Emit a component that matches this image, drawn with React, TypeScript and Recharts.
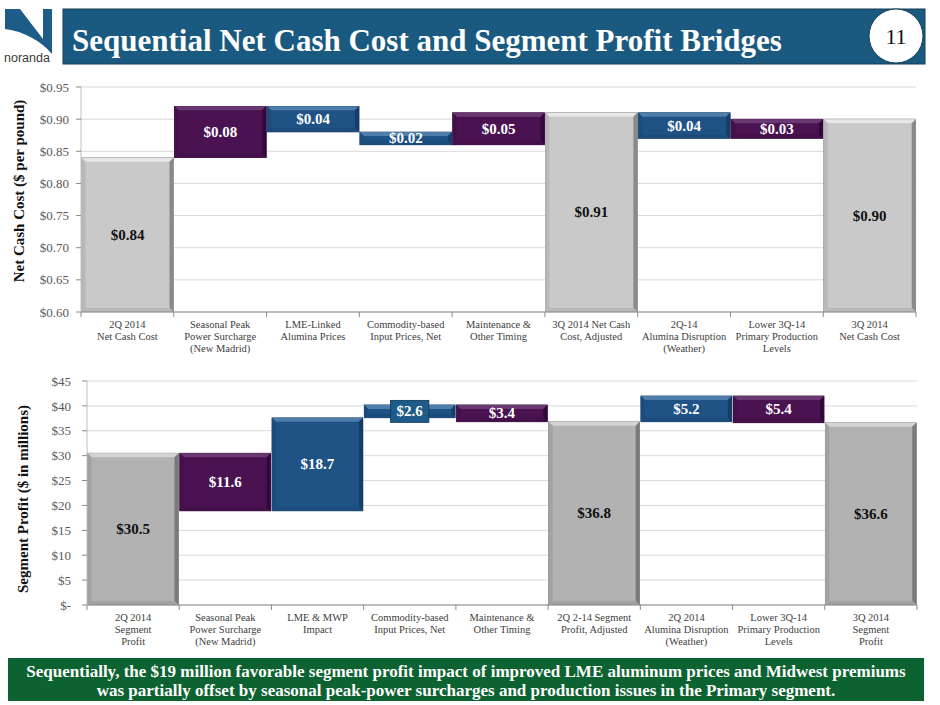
import React from 'react';
import { BarChart, Bar, XAxis, YAxis, CartesianGrid } from 'recharts';

// ---------- data ----------
const costCategories = [
  '2Q 2014\nNet Cash Cost',
  'Seasonal Peak\nPower Surcharge\n(New Madrid)',
  'LME-Linked\nAlumina Prices',
  'Commodity-based\nInput Prices, Net',
  'Maintenance &\nOther Timing',
  '3Q 2014 Net Cash\nCost, Adjusted',
  '2Q-14\nAlumina Disruption\n(Weather)',
  'Lower 3Q-14\nPrimary Production\nLevels',
  '3Q 2014\nNet Cash Cost',
];
const costChanges = [0.84, 0.08, -0.04, -0.02, 0.05, 0.91, -0.04, 0.03, 0.9];
const costIsTotal = [true, false, false, false, false, true, false, false, true];
const costTicks = [0.6, 0.65, 0.7, 0.75, 0.8, 0.85, 0.9, 0.95];

const profitCategories = [
  '2Q 2014\nSegment\nProfit',
  'Seasonal Peak\nPower Surcharge\n(New Madrid)',
  'LME & MWP\nImpact',
  'Commodity-based\nInput Prices, Net',
  'Maintenance &\nOther Timing',
  '2Q 2-14 Segment\nProfit, Adjusted',
  '2Q 2014\nAlumina Disruption\n(Weather)',
  'Lower 3Q-14\nPrimary Production\nLevels',
  '3Q 2014\nSegment\nProfit',
];
const profitChanges = [30.5, -11.6, 18.7, 2.6, -3.4, 36.8, 5.2, -5.4, 36.6];
const profitIsTotal = [true, false, false, false, false, true, false, false, true];
const profitTicks = [0, 5, 10, 15, 20, 25, 30, 35, 40, 45];

const titleText = 'Sequential Net Cash Cost and Segment Profit Bridges';
const pageNumber = '11';
const footerLines = [
  'Sequentially, the $19 million favorable segment profit impact of improved LME aluminum prices and Midwest premiums',
  'was partially offset by seasonal peak-power surcharges and production issues in the Primary segment.',
];
const costAxisTitle = 'Net Cash Cost ($ per pound)';
const profitAxisTitle = 'Segment Profit ($ in millions)';

// ---------- helpers ----------
const SERIF = '"Liberation Serif", "Times New Roman", serif';

type Row = { name: string; range: [number, number]; change: number; total: boolean };

function buildRows(categories: string[], changes: number[], isTotal: boolean[], floor: number): Row[] {
  let running = 0;
  return categories.map((name, i) => {
    const v = changes[i];
    let low: number;
    let high: number;
    if (isTotal[i]) {
      running = v;
      low = floor;
      high = v;
    } else {
      const next = running + v;
      low = Math.min(running, next);
      high = Math.max(running, next);
      running = next;
    }
    return { name, range: [+low.toFixed(4), +high.toFixed(4)], change: v, total: isTotal[i] };
  });
}

type Tone = { base: string; light: string; side: string; dark: string; edge: string; text: string; box: string };
const PURPLE: Tone = { base: '#4a1251', light: '#6a3871', side: '#43104a', dark: '#32083a', edge: '#2a0530', text: '#ffffff', box: '#4a1251' };
const BLUE: Tone = { base: '#1f5285', light: '#4d7dab', side: '#1c4c7c', dark: '#153e66', edge: '#0f3458', text: '#ffffff', box: '#1d5c88' };
const GRAY_TOP: Tone = { base: '#c9c9c9', light: '#e6e6e6', side: '#b8b8b8', dark: '#8a8a8a', edge: '#7a7a7a', text: '#111111', box: '#c9c9c9' };
const GRAY_BOTTOM: Tone = { base: '#b2b2b2', light: '#d4d4d4', side: '#a2a2a2', dark: '#7a7a7a', edge: '#6a6a6a', text: '#111111', box: '#b2b2b2' };

function makeShape(up: Tone, down: Tone, total: Tone, decimals: number, boxSmall: boolean) {
  return (props: any) => {
    let { x, y, width: w, height: h } = props;
    const p: Row = props.payload;
    if (w == null || h == null || !p) return <g />;
    if (h < 0) {
      y += h;
      h = -h;
    }
    const tone = p.total ? total : p.change >= 0 ? up : down;
    const b = Math.max(1, Math.min(4, h / 3, w / 3));
    const label = `$${Math.abs(p.change).toFixed(decimals)}`;
    const cx = x + w / 2;
    const cy = y + h / 2;
    const showBox = boxSmall && h < 16;
    const boxW = label.length * 8.6 + 4;
    return (
      <g>
        <rect x={x} y={y} width={w} height={h} fill={tone.base} stroke={tone.edge} strokeWidth={0.6} />
        <polygon points={`${x},${y} ${x + w},${y} ${x + w - b},${y + b} ${x + b},${y + b}`} fill={tone.light} />
        <polygon points={`${x},${y} ${x + b},${y + b} ${x + b},${y + h - b} ${x},${y + h}`} fill={tone.side} />
        <polygon points={`${x + w},${y} ${x + w - b},${y + b} ${x + w - b},${y + h - b} ${x + w},${y + h}`} fill={tone.dark} />
        <polygon points={`${x},${y + h} ${x + w},${y + h} ${x + w - b},${y + h - b} ${x + b},${y + h - b}`} fill={tone.side} />
        {showBox && (
          <rect x={cx - boxW / 2} y={cy - 11} width={boxW} height={22} fill={tone.box} stroke={tone.edge} strokeWidth={0.8} />
        )}
        <text
          x={cx}
          y={cy}
          textAnchor="middle"
          dominantBaseline="central"
          fontFamily={SERIF}
          fontWeight="bold"
          fontSize={15}
          fill={tone.text}
        >
          {label}
        </text>
      </g>
    );
  };
}

function makeCategoryTick(count: number, plotWidth: number) {
  return (props: any) => {
    const { x, y, payload, index } = props;
    const half = payload && typeof payload.offset === 'number' && payload.offset > 0 ? payload.offset : plotWidth / count / 2;
    const lines = String(payload.value).split('\n');
    return (
      <g>
        <line x1={x - half} y1={y} x2={x - half} y2={y + 5} stroke="#8a8a8a" />
        {index === count - 1 && <line x1={x + half} y1={y} x2={x + half} y2={y + 5} stroke="#8a8a8a" />}
        <text x={x} y={y + 16} textAnchor="middle" fontFamily={SERIF} fontSize={10.5} fill="#404040">
          {lines.map((l, i) => (
            <tspan key={i} x={x} dy={i === 0 ? 0 : 12}>
              {l}
            </tspan>
          ))}
        </text>
      </g>
    );
  };
}

const costRows = buildRows(costCategories, costChanges, costIsTotal, costTicks[0]);
const profitRows = buildRows(profitCategories, profitChanges, profitIsTotal, profitTicks[0]);

const costShape = makeShape(PURPLE, BLUE, GRAY_TOP, 2, false);
const profitShape = makeShape(BLUE, PURPLE, GRAY_BOTTOM, 1, true);

function Logo() {
  return (
    <g>
      <path d="M5,9 L20,9 L43,39 L43,9 L52,9 L52,54 C42,42 24,31 5,29 Z" fill="#1d5c87" />
      <text x={4} y={62} fontFamily='"Liberation Sans", Arial, sans-serif' fontSize={12.5} fill="#3a3a3a">
        noranda
      </text>
    </g>
  );
}

export default function App() {
  return (
    <div style={{ position: 'relative', width: 940, height: 705, background: '#ffffff', overflow: 'hidden', fontFamily: SERIF }}>
      <style>{'body{margin:0;}'}</style>
      <svg width={940} height={705} style={{ position: 'absolute', left: 0, top: 0 }}>
        <Logo />
        <rect x={63} y={9} width={862} height={55} fill="#1b5a80" stroke="#163c55" strokeWidth={1} />
        <text x={72} y={51} fontFamily={SERIF} fontWeight="bold" fontSize={31} fill="#ffffff">
          {titleText}
        </text>
        <ellipse cx={896} cy={36} rx={27} ry={27} fill="#ffffff" stroke="#163c55" strokeWidth={1} />
        <text x={896} y={44} textAnchor="middle" fontFamily={SERIF} fontSize={22} fill="#111111">
          {pageNumber}
        </text>
        <text
          transform="translate(24,191) rotate(-90)"
          textAnchor="middle"
          fontFamily={SERIF}
          fontWeight="bold"
          fontSize={15}
          fill="#111111"
        >
          {costAxisTitle}
        </text>
        <text
          transform="translate(28,499) rotate(-90)"
          textAnchor="middle"
          fontFamily={SERIF}
          fontWeight="bold"
          fontSize={15}
          fill="#111111"
        >
          {profitAxisTitle}
        </text>
        <rect x={8} y={658} width={916} height={43} fill="#0c6331" />
        <text x={466} y={677} textAnchor="middle" fontFamily={SERIF} fontWeight="bold" fontSize={17} fill="#ffffff">
          {footerLines[0]}
        </text>
        <text x={466} y={696} textAnchor="middle" fontFamily={SERIF} fontWeight="bold" fontSize={17} fill="#ffffff">
          {footerLines[1]}
        </text>
      </svg>

      <div style={{ position: 'absolute', left: 0, top: 0 }}>
        <BarChart width={940} height={357} data={costRows} margin={{ top: 87, right: 24, bottom: 0, left: 0 }} barCategoryGap={0.5}>
          <CartesianGrid vertical={false} stroke="#d9d9d9" />
          <XAxis
            dataKey="name"
            interval={0}
            height={45}
            tickSize={0}
            tickMargin={0}
            axisLine={{ stroke: '#8a8a8a' }}
            tick={makeCategoryTick(costCategories.length, 835)}
          />
          <YAxis
            width={81}
            domain={[costTicks[0], costTicks[costTicks.length - 1]]}
            ticks={costTicks}
            tickFormatter={(v: number) => `$${v.toFixed(2)}`}
            tick={{ fontFamily: SERIF, fontSize: 13, fill: '#595959' }}
            tickSize={5}
            tickMargin={7}
            tickLine={{ stroke: '#8a8a8a' }}
            axisLine={{ stroke: '#c0c0c0' }}
            allowDataOverflow
          />
          <Bar dataKey="range" isAnimationActive={false} shape={costShape} />
        </BarChart>
      </div>

      <div style={{ position: 'absolute', left: 0, top: 345 }}>
        <BarChart width={940} height={310} data={profitRows} margin={{ top: 36, right: 23, bottom: 0, left: 0 }} barCategoryGap={0.5}>
          <CartesianGrid vertical={false} stroke="#d9d9d9" />
          <XAxis
            dataKey="name"
            interval={0}
            height={50}
            tickSize={0}
            tickMargin={0}
            axisLine={{ stroke: '#8a8a8a' }}
            tick={makeCategoryTick(profitCategories.length, 830)}
          />
          <YAxis
            width={87}
            domain={[profitTicks[0], profitTicks[profitTicks.length - 1]]}
            ticks={profitTicks}
            tickFormatter={(v: number) => (v === 0 ? '$-' : `$${v}`)}
            tick={{ fontFamily: SERIF, fontSize: 13, fill: '#595959' }}
            tickSize={5}
            tickMargin={11}
            tickLine={{ stroke: '#8a8a8a' }}
            axisLine={{ stroke: '#c0c0c0' }}
            allowDataOverflow
          />
          <Bar dataKey="range" isAnimationActive={false} shape={profitShape} />
        </BarChart>
      </div>
    </div>
  );
}
